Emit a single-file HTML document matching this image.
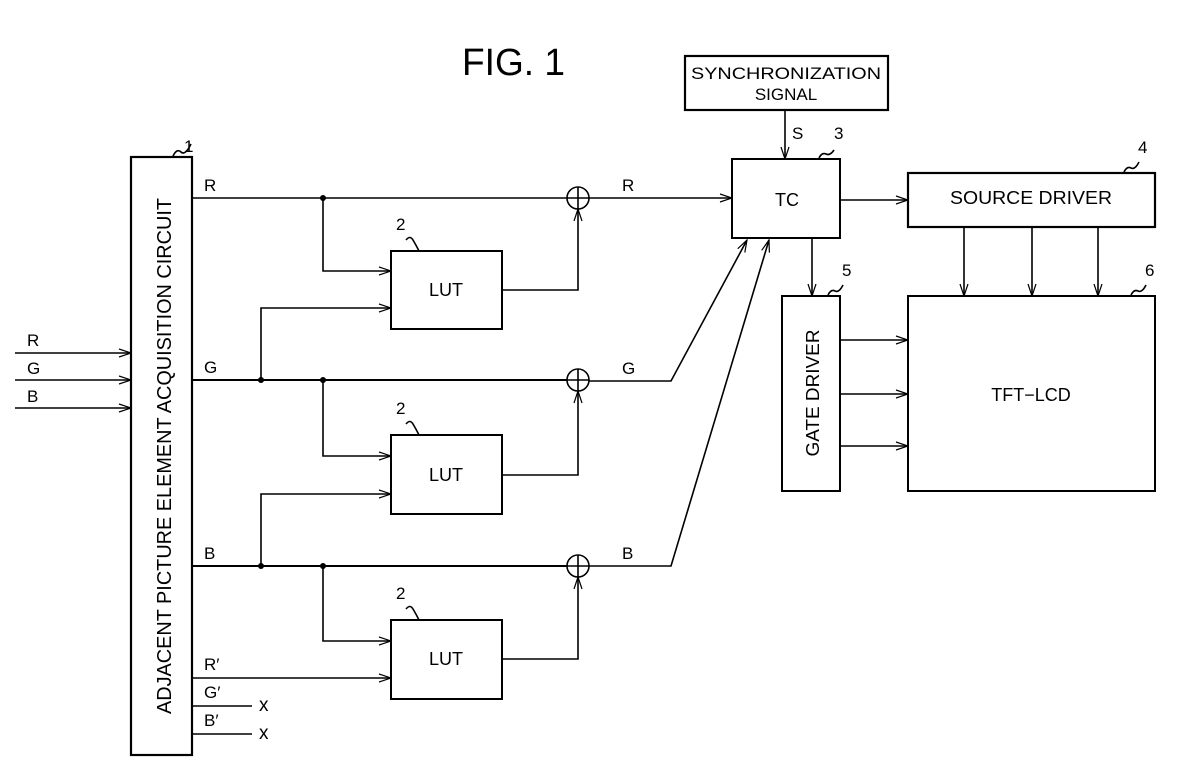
<!DOCTYPE html>
<html><head><meta charset="utf-8"><style>
html,body{margin:0;padding:0;background:#fff;}
svg{display:block;}
text{font-family:"Liberation Sans",sans-serif;fill:#000;}
</style></head><body>
<svg width="1193" height="780" viewBox="0 0 1193 780" xmlns="http://www.w3.org/2000/svg">
<defs>
<marker id="a" markerWidth="14" markerHeight="10" refX="13" refY="5" orient="auto" markerUnits="userSpaceOnUse">
<path d="M1,1 L13,5 L1,9" fill="none" stroke="#000" stroke-width="1.2"/>
</marker>
</defs>
<g stroke="#000" stroke-width="1.6" fill="none">
<rect x="131" y="157" width="61" height="598" stroke-width="2.2"/>
<path d="M173,156 q4,-8 8,-4 t10,-8"/>
<line x1="15" y1="353" x2="131" y2="353" marker-end="url(#a)"/>
<line x1="15" y1="380" x2="131" y2="380" marker-end="url(#a)"/>
<line x1="15" y1="408" x2="131" y2="408" marker-end="url(#a)"/>
<line x1="192" y1="198" x2="567" y2="198"/>
<line x1="192" y1="380" x2="567" y2="380" stroke-width="2"/>
<line x1="192" y1="566" x2="567" y2="566" stroke-width="2"/>
<circle cx="578" cy="198" r="11"/><path d="M567,198 H589 M578,187 V209"/>
<circle cx="578" cy="380" r="11"/><path d="M567,380 H589 M578,369 V391"/>
<circle cx="578" cy="566" r="11"/><path d="M567,566 H589 M578,555 V577"/>
<rect x="391" y="251" width="111" height="78" stroke-width="2"/>
<rect x="391" y="435" width="111" height="79" stroke-width="2"/>
<rect x="391" y="620" width="111" height="79" stroke-width="2"/>
<path d="M406,240 q4,-5 7,0 t6,11"/>
<path d="M406,424 q4,-5 7,0 t6,11"/>
<path d="M406,609 q4,-5 7,0 t6,11"/>
<polyline points="323,198 323,271 391,271" marker-end="url(#a)"/>
<polyline points="261,380 261,308 391,308" marker-end="url(#a)"/>
<polyline points="323,380 323,456 391,456" marker-end="url(#a)"/>
<polyline points="261,566 261,494 391,494" marker-end="url(#a)"/>
<polyline points="323,566 323,641 391,641" marker-end="url(#a)"/>
<line x1="192" y1="678" x2="391" y2="678" marker-end="url(#a)"/>
<line x1="192" y1="706" x2="252" y2="706"/>
<line x1="192" y1="734" x2="252" y2="734"/>
<polyline points="502,290 578,290 578,209" marker-end="url(#a)"/>
<polyline points="502,475 578,475 578,391" marker-end="url(#a)"/>
<polyline points="502,659 578,659 578,577" marker-end="url(#a)"/>
<line x1="589" y1="198" x2="732" y2="198" marker-end="url(#a)"/>
<polyline points="589,381 671,381 747,240" marker-end="url(#a)"/>
<polyline points="589,566 671,566 769,240" marker-end="url(#a)"/>
<rect x="685" y="56" width="203" height="54" stroke-width="2.2"/>
<line x1="785" y1="110" x2="785" y2="159" marker-end="url(#a)"/>
<rect x="732" y="159" width="108" height="79" stroke-width="2"/>
<path d="M819,158 q3,-6 7,-4 t8,-4"/>
<line x1="840" y1="200" x2="908" y2="200" marker-end="url(#a)"/>
<rect x="908" y="173" width="247" height="54" stroke-width="2.2"/>
<path d="M1124,172 q3,-6 7,-4 t8,-6"/>
<line x1="964" y1="227" x2="964" y2="296" marker-end="url(#a)"/>
<line x1="1032" y1="227" x2="1032" y2="296" marker-end="url(#a)"/>
<line x1="1098" y1="227" x2="1098" y2="296" marker-end="url(#a)"/>
<line x1="812" y1="238" x2="812" y2="296" marker-end="url(#a)"/>
<rect x="782" y="296" width="58" height="195" stroke-width="2"/>
<path d="M828,295 q3,-6 7,-4 t8,-6"/>
<rect x="908" y="296" width="247" height="195" stroke-width="2"/>
<path d="M1131,295 q3,-6 7,-4 t8,-6"/>
<line x1="840" y1="340" x2="908" y2="340" marker-end="url(#a)"/>
<line x1="840" y1="394" x2="908" y2="394" marker-end="url(#a)"/>
<line x1="840" y1="446" x2="908" y2="446" marker-end="url(#a)"/>
</g>
<g fill="#000">
<circle cx="323" cy="198" r="3"/><circle cx="261" cy="380" r="3"/><circle cx="323" cy="380" r="3"/>
<circle cx="261" cy="566" r="3"/><circle cx="323" cy="566" r="3"/>
</g>
<text x="462" y="75" font-size="38" textLength="103" lengthAdjust="spacingAndGlyphs">FIG. 1</text>
<text x="786" y="79" font-size="17" text-anchor="middle" textLength="190" lengthAdjust="spacingAndGlyphs">SYNCHRONIZATION</text>
<text x="786" y="100" font-size="17" text-anchor="middle">SIGNAL</text>
<text x="792" y="139" font-size="17">S</text>
<text x="834" y="139" font-size="17">3</text>
<text x="787" y="206" font-size="18" text-anchor="middle">TC</text>
<text x="1031" y="204" font-size="18" text-anchor="middle" textLength="162" lengthAdjust="spacingAndGlyphs">SOURCE DRIVER</text>
<text x="1138" y="153" font-size="17">4</text>
<text x="842" y="276" font-size="17">5</text>
<text x="1145" y="276" font-size="17">6</text>
<text x="1031" y="401" font-size="18" text-anchor="middle">TFT−LCD</text>
<text transform="translate(819,393) rotate(-90)" font-size="18" text-anchor="middle" textLength="127" lengthAdjust="spacingAndGlyphs">GATE DRIVER</text>
<text transform="translate(171,456) rotate(-90)" font-size="20" text-anchor="middle" textLength="516" lengthAdjust="spacingAndGlyphs">ADJACENT PICTURE ELEMENT ACQUISITION CIRCUIT</text>
<text x="184" y="152" font-size="17">1</text>
<g font-size="17">
<text x="27" y="346">R</text><text x="27" y="374">G</text><text x="27" y="402">B</text>
<text x="204" y="191">R</text><text x="204" y="373">G</text><text x="204" y="559">B</text>
<text x="622" y="191">R</text><text x="622" y="374">G</text><text x="622" y="559">B</text>
<text x="204" y="670">R′</text><text x="204" y="698">G′</text><text x="204" y="726">B′</text>
<text x="396" y="230">2</text><text x="396" y="414">2</text><text x="396" y="599">2</text>
</g>
<g font-size="19">
<text x="259" y="711">x</text><text x="259" y="739">x</text>
</g>
<g font-size="18" text-anchor="middle">
<text x="446" y="296">LUT</text><text x="446" y="481">LUT</text><text x="446" y="665">LUT</text>
</g>
</svg>
</body></html>
